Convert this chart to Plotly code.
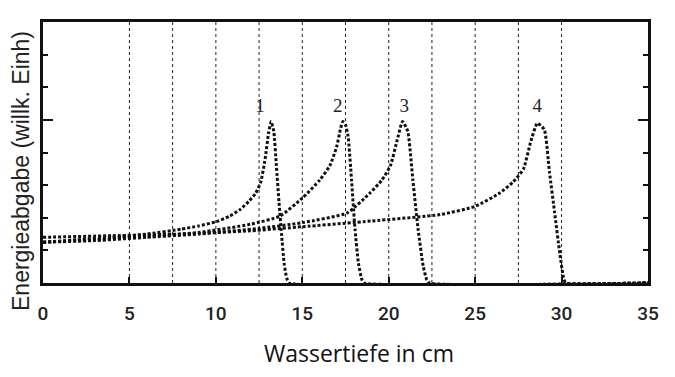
import plotly.graph_objects as go

# Curve 1 (peak ~13.2 cm)
c1_x = [0, 2, 4, 6, 8, 9, 10, 10.8, 11.4, 11.9, 12.3, 12.6, 12.85, 13.05, 13.2, 13.35, 13.5, 13.65, 13.8, 13.95, 14.1, 14.25, 35]
c1_y = [0.25, 0.265, 0.28, 0.30, 0.33, 0.35, 0.375, 0.41, 0.45, 0.50, 0.55, 0.62, 0.76, 0.92, 0.99, 0.93, 0.72, 0.50, 0.30, 0.12, 0.03, 0.0, 0.0]
# Curve 2 (peak ~17.35 cm)
c2_x = [0, 3, 6, 9, 12, 13.7, 15.0, 16.0, 16.6, 17.0, 17.2, 17.35, 17.5, 17.65, 17.85, 18.05, 18.25, 18.45, 18.6, 35]
c2_y = [0.25, 0.265, 0.285, 0.31, 0.36, 0.41, 0.52, 0.63, 0.72, 0.84, 0.94, 0.99, 0.97, 0.90, 0.63, 0.33, 0.12, 0.02, 0.0, 0.0]
# Curve 3 (peak ~20.8 cm)
c3_x = [0, 3, 6, 9, 12.5, 15.0, 17.6, 18.9, 19.6, 20.1, 20.5, 20.8, 21.1, 21.4, 21.7, 22.0, 22.2, 22.35, 35]
c3_y = [0.25, 0.26, 0.28, 0.30, 0.335, 0.37, 0.43, 0.55, 0.63, 0.72, 0.88, 0.99, 0.93, 0.63, 0.33, 0.10, 0.02, 0.0, 0.0]
# Curve 4 (peak ~28.6 cm)
c4_x = [0, 4, 8, 12, 15, 19, 23.0, 25.0, 26.4, 27.2, 27.8, 28.2, 28.6, 29.0, 29.3, 29.6, 29.9, 30.1, 30.25, 35]
c4_y = [0.28, 0.29, 0.30, 0.32, 0.345, 0.38, 0.42, 0.47, 0.55, 0.62, 0.70, 0.86, 0.98, 0.94, 0.68, 0.43, 0.18, 0.04, 0.0, 0.0]

curve_labels = ["1", "2", "3", "4"]
label_x = [12.55, 17.05, 20.9, 28.6]
label_y = [1.08, 1.08, 1.08, 1.08]

x_ticks = [0, 5, 10, 15, 20, 25, 30, 35]
grid_x = [5, 7.5, 10, 12.5, 15, 17.5, 20, 22.5, 25, 27.5, 30]

fig = go.Figure()
for xs, ys in [(c1_x, c1_y), (c2_x, c2_y), (c3_x, c3_y), (c4_x, c4_y)]:
    fig.add_trace(go.Scatter(x=xs, y=ys, mode="lines",
                             line=dict(color="#111", width=3, dash="3px,2px", shape="spline", smoothing=0.5),
                             showlegend=False, hoverinfo="skip"))

fig.add_trace(go.Scatter(x=label_x, y=label_y, mode="text", text=curve_labels,
                         textfont=dict(family="Liberation Serif", size=19, color="#222"),
                         showlegend=False, hoverinfo="skip"))

for gx in grid_x:
    fig.add_shape(type="line", x0=gx, x1=gx, y0=0, y1=1, xref="x", yref="paper",
                  line=dict(color="#222", width=1, dash="3px,3px"), layer="below")

# the page body has an 8px default margin, so the figure is slightly smaller
fig.update_layout(
    width=667, height=369,
    margin=dict(l=35, r=27, t=14, b=94),
    paper_bgcolor="white", plot_bgcolor="white",
    xaxis=dict(range=[0, 35], tickvals=x_ticks, ticktext=[str(v) for v in x_ticks],
               ticks="inside", ticklen=6, tickwidth=2, tickcolor="#111",
               showgrid=False, automargin=False,
               showline=True, linecolor="#111", linewidth=3, mirror=True,
               zeroline=False,
               tickfont=dict(family="Roboto", size=19, color="#222", weight=500),
               ticklabelstandoff=11),
    yaxis=dict(range=[0, 1.6], dtick=1.0, tick0=0, automargin=False,
               ticks="inside", ticklen=10, tickwidth=2, tickcolor="#111",
               minor=dict(dtick=0.2, ticks="inside", ticklen=5, tickwidth=2, tickcolor="#111", showgrid=False),
               showticklabels=False, showgrid=False, zeroline=False,
               showline=True, linecolor="#111", linewidth=3, mirror="ticks"),
)
pw = 667 - 35 - 27
ph = 369 - 14 - 94
fig.add_annotation(text="Wassertiefe in cm", x=(359 - 43) / pw, y=(283 - 353) / ph,
                   xref="paper", yref="paper", xanchor="center", yanchor="middle",
                   showarrow=False, font=dict(family="Open Sans", size=23, color="#111"))
fig.add_annotation(text="Energieabgabe (willk. Einh)", x=(21 - 43) / pw, y=(283 - 171) / ph,
                   xref="paper", yref="paper", xanchor="center", yanchor="middle",
                   showarrow=False, textangle=-90,
                   font=dict(family="Liberation Sans", size=23, color="#222"))

fig.write_html("out.html")
